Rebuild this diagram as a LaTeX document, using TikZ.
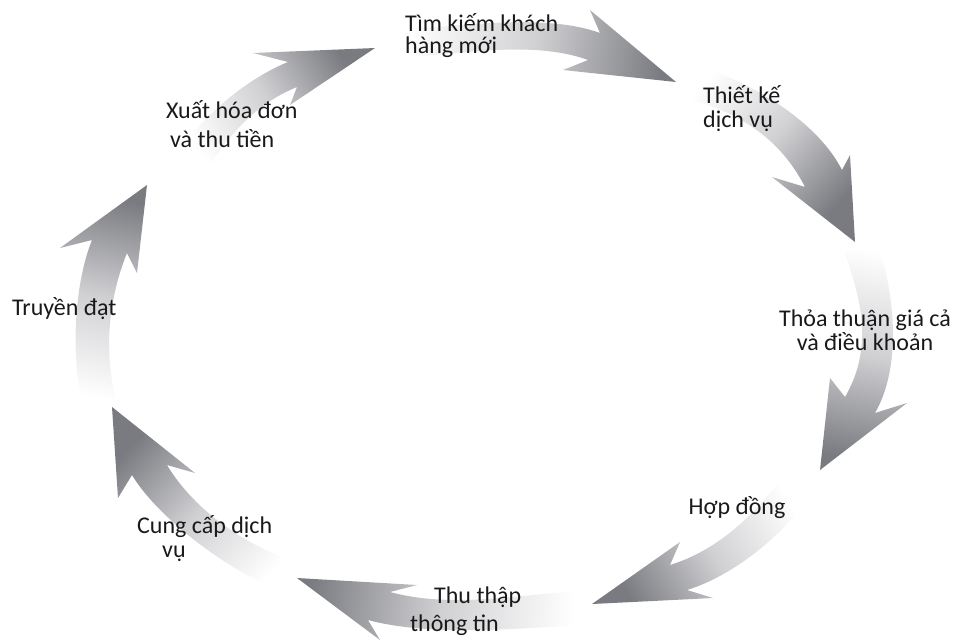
\documentclass[tikz,border=0pt]{standalone}
\usepackage{fontspec}
\setmainfont{Carlito}
\usetikzlibrary{calc}

\definecolor{arrowgray}{RGB}{122,123,128}
\definecolor{arrowmid}{RGB}{208,208,211}
\definecolor{labelink}{RGB}{25,25,25}

\tikzset{
  lbl/.style={inner sep=0pt, font=\fontsize{24}{24}\selectfont, text=labelink},
  ringarrow/.style={top color=arrowgray, bottom color=white, middle color=arrowmid, shading angle=#1},
}

\begin{document}
\begin{tikzpicture}[x=1pt, y=-1pt]
\useasboundingbox (0,0) rectangle (955,641);

% Ring of curved arrows; drawn so that each head lies over the next tail
% 8: invoicing
\shade[ringarrow=-57.7] (176,156) .. controls +(-58:45) and +(158:45) .. (288,62)
  -- (253,53) -- (375,48) -- (290,105) -- (297,87)
  .. controls +(158:45) and +(-58:45) .. (204,174) -- cycle;
% 7: communication
\shade[ringarrow=-12.1] (83.6,409.4) .. controls +(-105:50) and +(112:50) .. (92,240)
  -- (60,248) -- (147,185) -- (137,273) -- (127,253)
  .. controls +(112:50) and +(-105:50) .. (116.4,400.6) -- cycle;
% 6: service delivery
\shade[ringarrow=47.4] (296,596) .. controls +(195:55) and +(59:55) .. (132,475)
  -- (118,498) -- (112,407) -- (195,473) -- (167,465)
  .. controls +(59:55) and +(195:55) .. (304,564) -- cycle;
% 5: information gathering
\shade[ringarrow=84] (584,625) .. controls +(177:65) and +(15:65) .. (368,620)
  -- (380,640) -- (297,578) -- (417,585) -- (390,592)
  .. controls +(15:65) and +(177:65) .. (582,591) -- cycle;
% 4: contract
\shade[ringarrow=120.4] (814,492) .. controls +(125:50) and +(-17:50) .. (687,590)
  -- (713,598) -- (592,604) -- (680,542) -- (670,565)
  .. controls +(-17:50) and +(125:50) .. (786,472) -- cycle;
% 3: negotiation
\shade[ringarrow=169.9] (876,239) .. controls +(70:55) and +(-60:55) .. (875,413)
  -- (907,403) -- (820,470) -- (830,378) -- (845,397)
  .. controls +(-60:55) and +(70:55) .. (844,251) -- cycle;
% 2: service design
\shade[ringarrow=-132.3] (679,61) .. controls +(12:60) and +(243:60) .. (842,170)
  -- (850,155) -- (855,242) -- (772,177) -- (805,187)
  .. controls +(243:60) and +(12:60) .. (672,95) -- cycle;
% 1: prospecting
\shade[ringarrow=-97.8] (397,30) .. controls +(-3:60) and +(200:60) .. (600,33)
  -- (590,10) -- (676,82) -- (563,70) -- (588,60)
  .. controls +(200:60) and +(-3:60) .. (397,58) -- cycle;

% Labels
\node[lbl, anchor=base west] (l1a) at (405,31) {Tìm kiếm khách};
\node[lbl, anchor=base west] (l1b) at (405,53) {hàng mới};
\node[lbl, anchor=base west] (l2a) at (703,103) {Thiết kế};
\node[lbl, anchor=base west] (l2b) at (703,127) {dịch vụ};
\node[lbl, anchor=base] (l3a) at (865,326) {Thỏa thuận giá cả};
\node[lbl, anchor=base] (l3b) at (865,350) {và điều khoản};
\node[lbl, anchor=base] (l4) at (737,514) {Hợp đồng};
\node[lbl, anchor=base west] (l5a) at (434,603) {Thu thập};
\node[lbl, anchor=base west] (l5b) at (410,631) {thông tin};
\node[lbl, anchor=base west] (l6a) at (137,533) {Cung cấp dịch};
\node[lbl, anchor=base west] (l6b) at (162,557) {vụ};
\node[lbl, anchor=base west] (l7) at (12,315) {Truyền đạt};
\node[lbl, anchor=base west] (l8a) at (166,118) {Xuất hóa đơn};
\node[lbl, anchor=base west] (l8b) at (170,147) {và thu tiền};
\end{tikzpicture}
\end{document}
